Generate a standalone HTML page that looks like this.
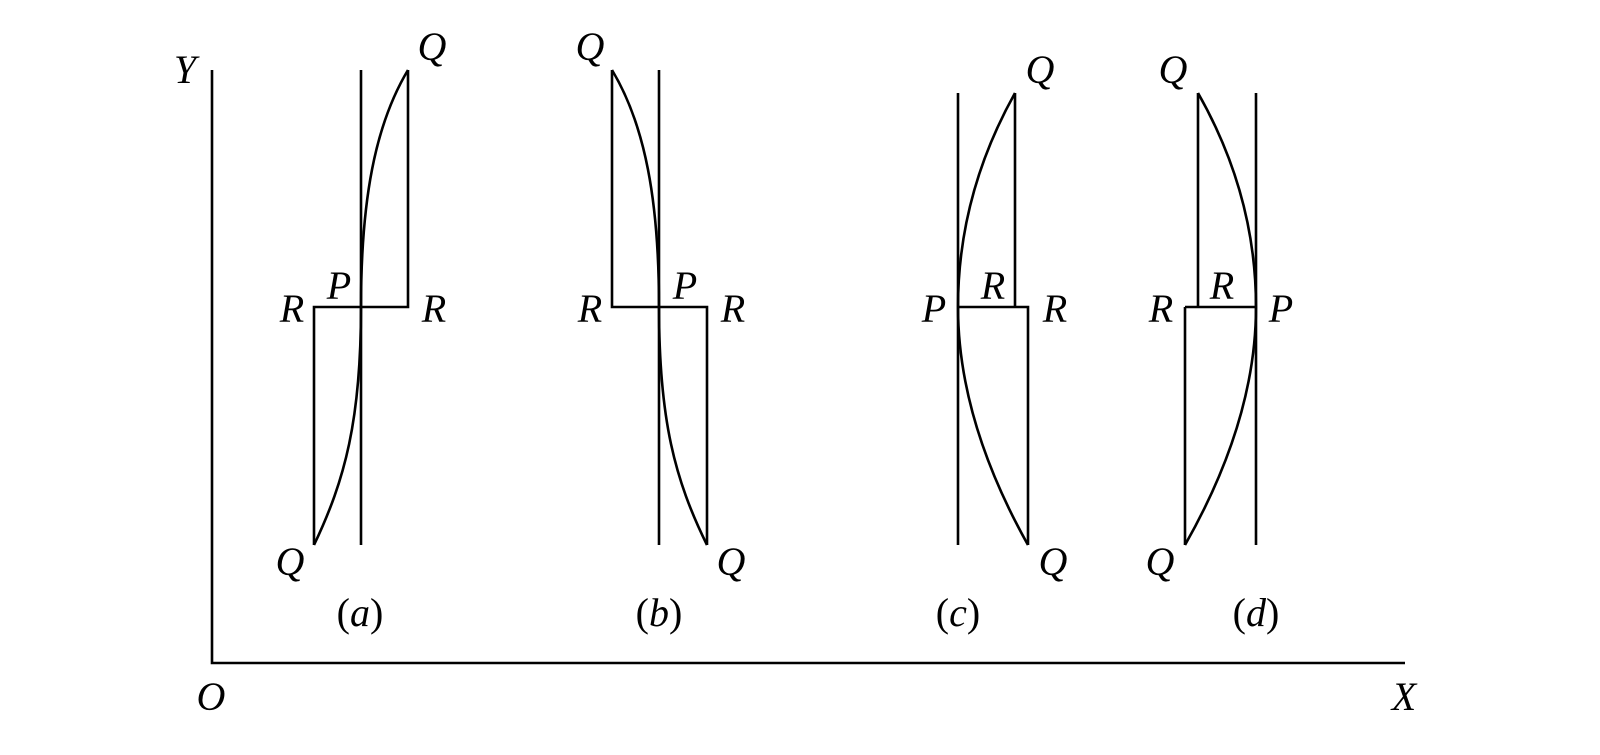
<!DOCTYPE html>
<html><head><meta charset="utf-8"><style>
html,body{margin:0;padding:0;background:#fff;}
svg{display:block;}
text{font-family:"Liberation Serif",serif;font-style:italic;font-size:40px;fill:#000;text-anchor:middle;}
.n{font-style:normal;}
</style></head><body>
<svg width="1600" height="755" viewBox="0 0 1600 755" xmlns="http://www.w3.org/2000/svg">
<g stroke="#000" stroke-width="2.6" fill="none">
<path d="M212,70 V663 H1405"/>
<!-- a -->
<path d="M361,70 V545 M408,70 V307 H314 V545"/>
<path d="M408,70 C375,125 361,200 361,307 C361,420 345,480 314,545"/>
<!-- b -->
<path d="M659,70 V545 M612,70 V307 H707 V545"/>
<path d="M612,70 C645,125 659,200 659,307 C659,420 675,480 707,545"/>
<!-- c -->
<path d="M958,93 V545 M1015,93 V307 H958 M958,307 H1028 V545"/>
<path d="M1015,93 Q958,195 958,307 Q958,420 1028,545"/>
<!-- d -->
<path d="M1256,93 V545 M1198,93 V307 H1256 M1185,307 H1198 M1185,307 V545"/>
<path d="M1198,93 Q1256,195 1256,307 Q1256,420 1185,545"/>
</g>
<text x="185" y="83">Y</text>
<text x="211" y="710">O</text>
<text x="1404" y="710">X</text>
<text x="432" y="60">Q</text><text x="292" y="322">R</text><text x="339" y="299">P</text><text x="434" y="322">R</text><text x="290" y="575">Q</text><text x="360" y="626"><tspan class="n">(</tspan>a<tspan class="n">)</tspan></text>
<text x="590" y="60">Q</text><text x="590" y="322">R</text><text x="685" y="299">P</text><text x="733" y="322">R</text><text x="731" y="575">Q</text><text x="659" y="626"><tspan class="n">(</tspan>b<tspan class="n">)</tspan></text>
<text x="1040" y="83">Q</text><text x="934" y="322">P</text><text x="993" y="299">R</text><text x="1055" y="322">R</text><text x="1053" y="575">Q</text><text x="958" y="626"><tspan class="n">(</tspan>c<tspan class="n">)</tspan></text>
<text x="1173" y="83">Q</text><text x="1161" y="322">R</text><text x="1222" y="299">R</text><text x="1281" y="322">P</text><text x="1160" y="575">Q</text><text x="1256" y="626"><tspan class="n">(</tspan>d<tspan class="n">)</tspan></text>
</svg>
</body></html>
